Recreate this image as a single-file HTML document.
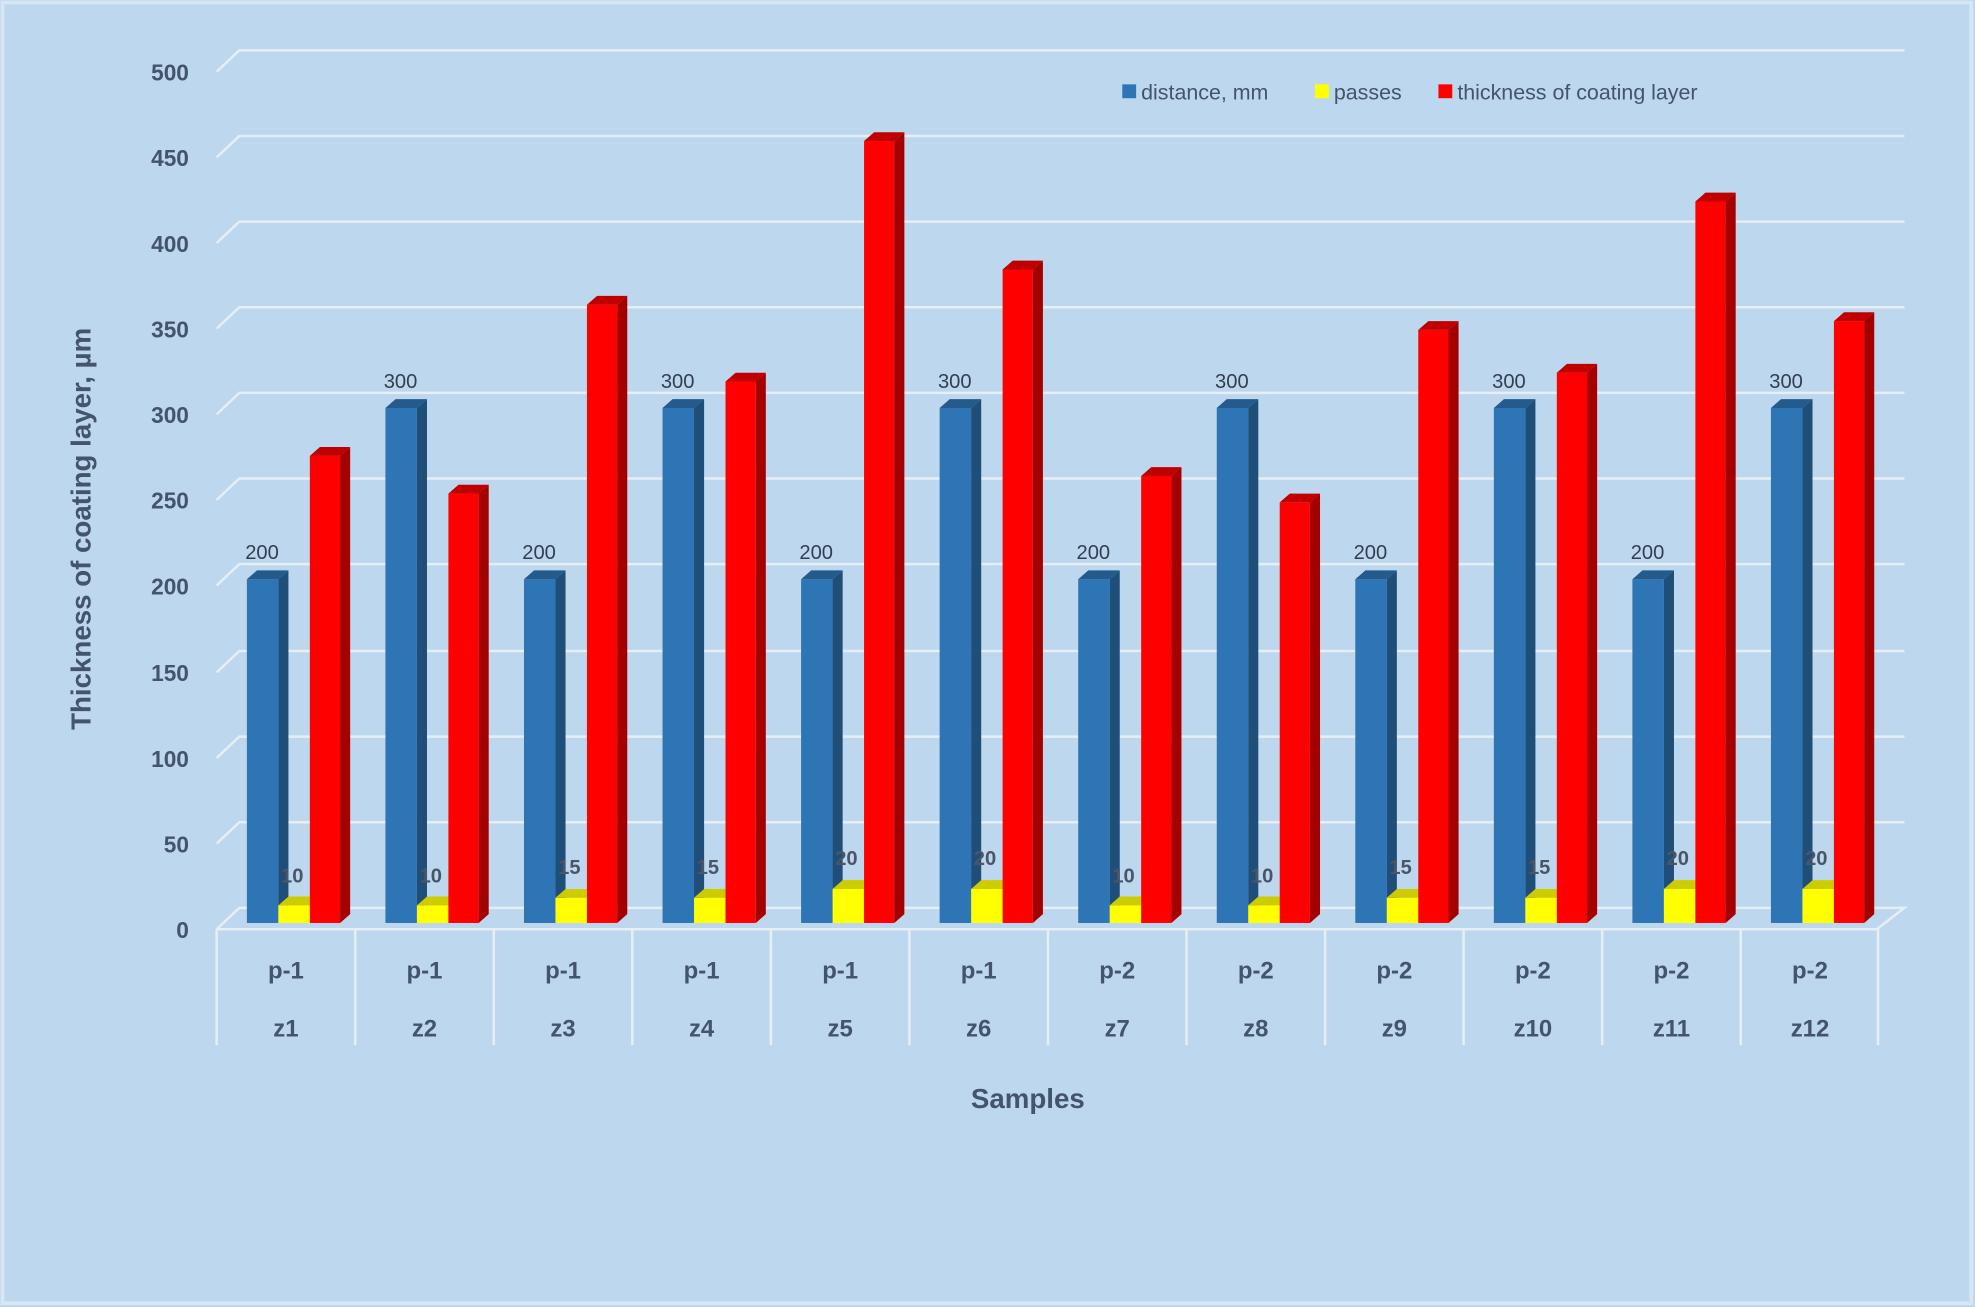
<!DOCTYPE html>
<html><head><meta charset="utf-8"><style>
html,body{margin:0;padding:0;background:#bdd7ee;}
svg{display:block;}
text{font-family:"Liberation Sans",sans-serif;fill:#44546a;}
.t{font-size:18px;font-weight:bold;text-anchor:end;}
.c{font-size:19px;font-weight:bold;text-anchor:middle;}
.v{font-size:16px;text-anchor:middle;fill:#333f50;}
.yl{font-size:16px;font-weight:bold;text-anchor:middle;fill:#4a5566;}
</style></head><body>
<svg width="1975" height="1307" viewBox="0 0 1568 1038" preserveAspectRatio="none" xmlns="http://www.w3.org/2000/svg">
<rect x="0" y="0" width="1568" height="1038" fill="#bdd7ee"/>
<rect x="2" y="2" width="1563" height="1033" fill="none" stroke="#d6e6f4" stroke-width="3"/>
<g stroke="#e6eef6" stroke-width="2" fill="none">
<polyline points="172,57 190,40 1512,40"/>
<polyline points="172,125 190,108 1512,108"/>
<polyline points="172,193 190,176 1512,176"/>
<polyline points="172,261 190,244 1512,244"/>
<polyline points="172,329 190,312 1512,312"/>
<polyline points="172,397 190,380 1512,380"/>
<polyline points="172,465 190,448 1512,448"/>
<polyline points="172,534 190,517 1512,517"/>
<polyline points="172,602 190,585 1512,585"/>
<polyline points="172,670 190,653 1512,653"/>
<polyline points="172,738 190,721 1512,721 1490,738 172,738"/>
<line x1="172" y1="738" x2="172" y2="830"/><line x1="282" y1="738" x2="282" y2="830"/><line x1="392" y1="738" x2="392" y2="830"/><line x1="502" y1="738" x2="502" y2="830"/><line x1="612" y1="738" x2="612" y2="830"/><line x1="722" y1="738" x2="722" y2="830"/><line x1="832" y1="738" x2="832" y2="830"/><line x1="942" y1="738" x2="942" y2="830"/><line x1="1052" y1="738" x2="1052" y2="830"/><line x1="1162" y1="738" x2="1162" y2="830"/><line x1="1272" y1="738" x2="1272" y2="830"/><line x1="1382" y1="738" x2="1382" y2="830"/><line x1="1491" y1="738" x2="1491" y2="830"/>
</g>
<g>
<text class="t" x="150" y="64">500</text><text class="t" x="150" y="132">450</text><text class="t" x="150" y="200">400</text><text class="t" x="150" y="268">350</text><text class="t" x="150" y="336">300</text><text class="t" x="150" y="404">250</text><text class="t" x="150" y="472">200</text><text class="t" x="150" y="541">150</text><text class="t" x="150" y="609">100</text><text class="t" x="150" y="677">50</text><text class="t" x="150" y="745">0</text>
</g>
<text x="72" y="420" transform="rotate(-90 72 420)" style="font-size:22px;font-weight:bold;text-anchor:middle;">Thickness of coating  layer, µm</text>
<text x="816" y="880" style="font-size:22px;font-weight:bold;text-anchor:middle;">Samples</text>
<g>
<text class="c" x="227" y="777">p-1</text><text class="c" x="337" y="777">p-1</text><text class="c" x="447" y="777">p-1</text><text class="c" x="557" y="777">p-1</text><text class="c" x="667" y="777">p-1</text><text class="c" x="777" y="777">p-1</text><text class="c" x="887" y="777">p-2</text><text class="c" x="997" y="777">p-2</text><text class="c" x="1107" y="777">p-2</text><text class="c" x="1217" y="777">p-2</text><text class="c" x="1327" y="777">p-2</text><text class="c" x="1437" y="777">p-2</text>
<text class="c" x="227" y="823">z1</text><text class="c" x="337" y="823">z2</text><text class="c" x="447" y="823">z3</text><text class="c" x="557" y="823">z4</text><text class="c" x="667" y="823">z5</text><text class="c" x="777" y="823">z6</text><text class="c" x="887" y="823">z7</text><text class="c" x="997" y="823">z8</text><text class="c" x="1107" y="823">z9</text><text class="c" x="1217" y="823">z10</text><text class="c" x="1327" y="823">z11</text><text class="c" x="1437" y="823">z12</text>
</g>
<rect x="891" y="67" width="11" height="11" fill="#2e75b6"/><text x="906" y="79" style="font-size:17px;">distance, mm</text>
<rect x="1044" y="67" width="11" height="11" fill="#ffff00"/><text x="1059" y="79" style="font-size:17px;">passes</text>
<rect x="1142" y="67" width="11" height="11" fill="#ff0000"/><text x="1157" y="79" style="font-size:17px;">thickness of coating layer</text>
<g>
<g transform="translate(196,460)"><rect width="25" height="273" fill="#2e75b6"/><polygon points="25,0 33,-7 33,266 25,273" fill="#1f4e79"/><polygon points="0,0 8,-7 33,-7 25,0" fill="#245a8c"/></g>
<g transform="translate(221,719)"><rect width="25" height="14" fill="#ffff00"/><polygon points="0,0 8,-7 33,-7 25,0" fill="#cccc00"/></g>
<g transform="translate(246,362)"><rect width="24" height="371" fill="#ff0000"/><polygon points="24,0 32,-7 32,364 24,371" fill="#a50000"/><polygon points="0,0 8,-7 32,-7 24,0" fill="#c00000"/></g>
<g transform="translate(306,324)"><rect width="25" height="409" fill="#2e75b6"/><polygon points="25,0 33,-7 33,402 25,409" fill="#1f4e79"/><polygon points="0,0 8,-7 33,-7 25,0" fill="#245a8c"/></g>
<g transform="translate(331,719)"><rect width="25" height="14" fill="#ffff00"/><polygon points="0,0 8,-7 33,-7 25,0" fill="#cccc00"/></g>
<g transform="translate(356,392)"><rect width="24" height="341" fill="#ff0000"/><polygon points="24,0 32,-7 32,334 24,341" fill="#a50000"/><polygon points="0,0 8,-7 32,-7 24,0" fill="#c00000"/></g>
<g transform="translate(416,460)"><rect width="25" height="273" fill="#2e75b6"/><polygon points="25,0 33,-7 33,266 25,273" fill="#1f4e79"/><polygon points="0,0 8,-7 33,-7 25,0" fill="#245a8c"/></g>
<g transform="translate(441,713)"><rect width="25" height="20" fill="#ffff00"/><polygon points="0,0 8,-7 33,-7 25,0" fill="#cccc00"/></g>
<g transform="translate(466,242)"><rect width="24" height="491" fill="#ff0000"/><polygon points="24,0 32,-7 32,484 24,491" fill="#a50000"/><polygon points="0,0 8,-7 32,-7 24,0" fill="#c00000"/></g>
<g transform="translate(526,324)"><rect width="25" height="409" fill="#2e75b6"/><polygon points="25,0 33,-7 33,402 25,409" fill="#1f4e79"/><polygon points="0,0 8,-7 33,-7 25,0" fill="#245a8c"/></g>
<g transform="translate(551,713)"><rect width="25" height="20" fill="#ffff00"/><polygon points="0,0 8,-7 33,-7 25,0" fill="#cccc00"/></g>
<g transform="translate(576,303)"><rect width="24" height="430" fill="#ff0000"/><polygon points="24,0 32,-7 32,423 24,430" fill="#a50000"/><polygon points="0,0 8,-7 32,-7 24,0" fill="#c00000"/></g>
<g transform="translate(636,460)"><rect width="25" height="273" fill="#2e75b6"/><polygon points="25,0 33,-7 33,266 25,273" fill="#1f4e79"/><polygon points="0,0 8,-7 33,-7 25,0" fill="#245a8c"/></g>
<g transform="translate(661,706)"><rect width="25" height="27" fill="#ffff00"/><polygon points="0,0 8,-7 33,-7 25,0" fill="#cccc00"/></g>
<g transform="translate(686,112)"><rect width="24" height="621" fill="#ff0000"/><polygon points="24,0 32,-7 32,614 24,621" fill="#a50000"/><polygon points="0,0 8,-7 32,-7 24,0" fill="#c00000"/></g>
<g transform="translate(746,324)"><rect width="25" height="409" fill="#2e75b6"/><polygon points="25,0 33,-7 33,402 25,409" fill="#1f4e79"/><polygon points="0,0 8,-7 33,-7 25,0" fill="#245a8c"/></g>
<g transform="translate(771,706)"><rect width="25" height="27" fill="#ffff00"/><polygon points="0,0 8,-7 33,-7 25,0" fill="#cccc00"/></g>
<g transform="translate(796,214)"><rect width="24" height="519" fill="#ff0000"/><polygon points="24,0 32,-7 32,512 24,519" fill="#a50000"/><polygon points="0,0 8,-7 32,-7 24,0" fill="#c00000"/></g>
<g transform="translate(856,460)"><rect width="25" height="273" fill="#2e75b6"/><polygon points="25,0 33,-7 33,266 25,273" fill="#1f4e79"/><polygon points="0,0 8,-7 33,-7 25,0" fill="#245a8c"/></g>
<g transform="translate(881,719)"><rect width="25" height="14" fill="#ffff00"/><polygon points="0,0 8,-7 33,-7 25,0" fill="#cccc00"/></g>
<g transform="translate(906,378)"><rect width="24" height="355" fill="#ff0000"/><polygon points="24,0 32,-7 32,348 24,355" fill="#a50000"/><polygon points="0,0 8,-7 32,-7 24,0" fill="#c00000"/></g>
<g transform="translate(966,324)"><rect width="25" height="409" fill="#2e75b6"/><polygon points="25,0 33,-7 33,402 25,409" fill="#1f4e79"/><polygon points="0,0 8,-7 33,-7 25,0" fill="#245a8c"/></g>
<g transform="translate(991,719)"><rect width="25" height="14" fill="#ffff00"/><polygon points="0,0 8,-7 33,-7 25,0" fill="#cccc00"/></g>
<g transform="translate(1016,399)"><rect width="24" height="334" fill="#ff0000"/><polygon points="24,0 32,-7 32,327 24,334" fill="#a50000"/><polygon points="0,0 8,-7 32,-7 24,0" fill="#c00000"/></g>
<g transform="translate(1076,460)"><rect width="25" height="273" fill="#2e75b6"/><polygon points="25,0 33,-7 33,266 25,273" fill="#1f4e79"/><polygon points="0,0 8,-7 33,-7 25,0" fill="#245a8c"/></g>
<g transform="translate(1101,713)"><rect width="25" height="20" fill="#ffff00"/><polygon points="0,0 8,-7 33,-7 25,0" fill="#cccc00"/></g>
<g transform="translate(1126,262)"><rect width="24" height="471" fill="#ff0000"/><polygon points="24,0 32,-7 32,464 24,471" fill="#a50000"/><polygon points="0,0 8,-7 32,-7 24,0" fill="#c00000"/></g>
<g transform="translate(1186,324)"><rect width="25" height="409" fill="#2e75b6"/><polygon points="25,0 33,-7 33,402 25,409" fill="#1f4e79"/><polygon points="0,0 8,-7 33,-7 25,0" fill="#245a8c"/></g>
<g transform="translate(1211,713)"><rect width="25" height="20" fill="#ffff00"/><polygon points="0,0 8,-7 33,-7 25,0" fill="#cccc00"/></g>
<g transform="translate(1236,296)"><rect width="24" height="437" fill="#ff0000"/><polygon points="24,0 32,-7 32,430 24,437" fill="#a50000"/><polygon points="0,0 8,-7 32,-7 24,0" fill="#c00000"/></g>
<g transform="translate(1296,460)"><rect width="25" height="273" fill="#2e75b6"/><polygon points="25,0 33,-7 33,266 25,273" fill="#1f4e79"/><polygon points="0,0 8,-7 33,-7 25,0" fill="#245a8c"/></g>
<g transform="translate(1321,706)"><rect width="25" height="27" fill="#ffff00"/><polygon points="0,0 8,-7 33,-7 25,0" fill="#cccc00"/></g>
<g transform="translate(1346,160)"><rect width="24" height="573" fill="#ff0000"/><polygon points="24,0 32,-7 32,566 24,573" fill="#a50000"/><polygon points="0,0 8,-7 32,-7 24,0" fill="#c00000"/></g>
<g transform="translate(1406,324)"><rect width="25" height="409" fill="#2e75b6"/><polygon points="25,0 33,-7 33,402 25,409" fill="#1f4e79"/><polygon points="0,0 8,-7 33,-7 25,0" fill="#245a8c"/></g>
<g transform="translate(1431,706)"><rect width="25" height="27" fill="#ffff00"/><polygon points="0,0 8,-7 33,-7 25,0" fill="#cccc00"/></g>
<g transform="translate(1456,255)"><rect width="24" height="478" fill="#ff0000"/><polygon points="24,0 32,-7 32,471 24,478" fill="#a50000"/><polygon points="0,0 8,-7 32,-7 24,0" fill="#c00000"/></g>
</g>
<g>
<text class="v" x="208" y="444">200</text><text class="v" x="318" y="308">300</text><text class="v" x="428" y="444">200</text><text class="v" x="538" y="308">300</text><text class="v" x="648" y="444">200</text><text class="v" x="758" y="308">300</text><text class="v" x="868" y="444">200</text><text class="v" x="978" y="308">300</text><text class="v" x="1088" y="444">200</text><text class="v" x="1198" y="308">300</text><text class="v" x="1308" y="444">200</text><text class="v" x="1418" y="308">300</text>
<text class="yl" x="232" y="701">10</text><text class="yl" x="342" y="701">10</text><text class="yl" x="452" y="694">15</text><text class="yl" x="562" y="694">15</text><text class="yl" x="672" y="687">20</text><text class="yl" x="782" y="687">20</text><text class="yl" x="892" y="701">10</text><text class="yl" x="1002" y="701">10</text><text class="yl" x="1112" y="694">15</text><text class="yl" x="1222" y="694">15</text><text class="yl" x="1332" y="687">20</text><text class="yl" x="1442" y="687">20</text>
</g>
</svg>
</body></html>
